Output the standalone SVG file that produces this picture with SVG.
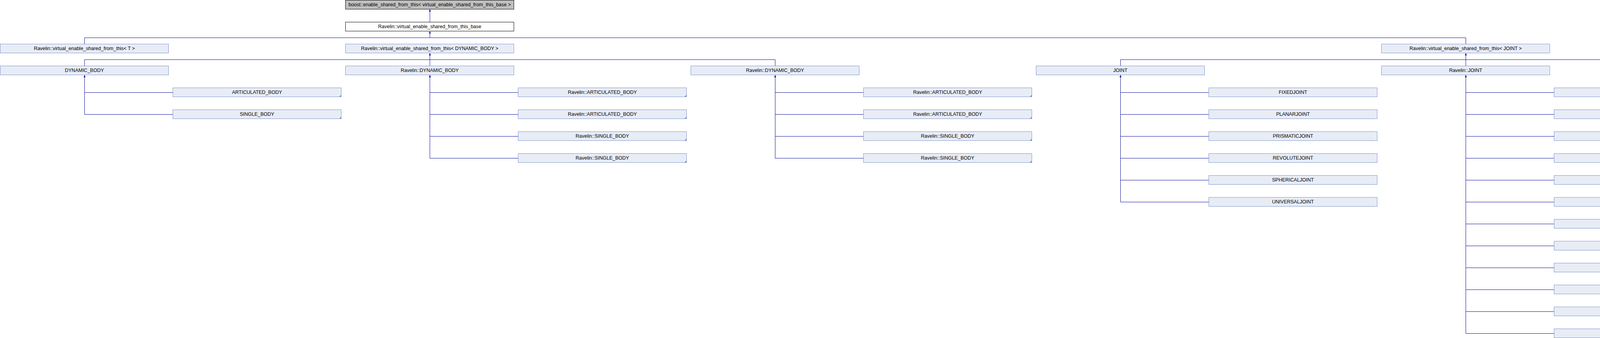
<svg xmlns="http://www.w3.org/2000/svg" width="5294" height="864" viewBox="0 0 5294 864">
<style>
.b{fill:#e8ecf5;stroke:#7b93cc;stroke-width:1}
.g{fill:#bfbfbf;stroke:#000;stroke-width:1}
.w{fill:#fff;stroke:#000;stroke-width:1}
.t{font-family:"Liberation Sans",Arial,sans-serif;font-size:12.5px;fill:#000;text-anchor:middle}
.c{fill:#7b93cc}
.e{fill:none;stroke:#0a0a9c;stroke-width:1}
.a{fill:#0a0a9c}
</style>
<rect width="5294" height="864" fill="#fff"/>
<g id="connectors">
<path class="e" d="M1100.5 23V56M1100.5 79V96.5M216.5 96.5H3752.5M216.5 96.5V112M3752.5 96.5V112M1100.5 135V168M216.5 152.5H1984.5M216.5 152.5V168M1984.5 152.5V168M3752.5 135V168M2868.5 152.5H4636.5M2868.5 152.5V168M4636.5 152.5V168"/>
<path class="e" d="M216.5 191V292.5M216.5 236.5H442M216.5 292.5H442"/>
<path class="e" d="M1100.5 191V404.5M1100.5 236.5H1326M1100.5 292.5H1326M1100.5 348.5H1326M1100.5 404.5H1326"/>
<path class="e" d="M1984.5 191V404.5M1984.5 236.5H2210M1984.5 292.5H2210M1984.5 348.5H2210M1984.5 404.5H2210"/>
<path class="e" d="M2868.5 191V516.5M2868.5 236.5H3094M2868.5 292.5H3094M2868.5 348.5H3094M2868.5 404.5H3094M2868.5 460.5H3094M2868.5 516.5H3094"/>
<path class="e" d="M3752.5 191V852.5M3752.5 236.5H3978M3752.5 292.5H3978M3752.5 348.5H3978M3752.5 404.5H3978M3752.5 460.5H3978M3752.5 516.5H3978M3752.5 572.5H3978M3752.5 628.5H3978M3752.5 684.5H3978M3752.5 740.5H3978M3752.5 796.5H3978M3752.5 852.5H3978"/>
<path class="e" d="M4636.5 191V852.5M4636.5 236.5H4862M4636.5 292.5H4862M4636.5 348.5H4862M4636.5 404.5H4862M4636.5 460.5H4862M4636.5 516.5H4862M4636.5 572.5H4862M4636.5 628.5H4862M4636.5 684.5H4862M4636.5 740.5H4862M4636.5 796.5H4862M4636.5 852.5H4862"/>
<polygon class="a" points="1100.5,23.5 1098,29.5 1103,29.5"/>
<polygon class="a" points="1100.5,79.5 1098,85.5 1103,85.5"/>
<polygon class="a" points="1100.5,135.5 1098,141.5 1103,141.5"/>
<polygon class="a" points="3752.5,135.5 3750,141.5 3755,141.5"/>
<polygon class="a" points="216.5,191.5 214,197.5 219,197.5"/>
<polygon class="a" points="1100.5,191.5 1098,197.5 1103,197.5"/>
<polygon class="a" points="1984.5,191.5 1982,197.5 1987,197.5"/>
<polygon class="a" points="2868.5,191.5 2866,197.5 2871,197.5"/>
<polygon class="a" points="3752.5,191.5 3750,197.5 3755,197.5"/>
<polygon class="a" points="4636.5,191.5 4634,197.5 4639,197.5"/>
</g>
<g id="n_boost"><rect class="g" x="884.5" y="0.5" width="431" height="23"/><text class="t" x="1100" y="15.5">boost::enable_shared_from_this&lt; virtual_enable_shared_from_this_base &gt;</text></g>
<g id="n_vesb"><rect class="w" x="884.5" y="56.5" width="431" height="23"/><text class="t" x="1100" y="71.5">Ravelin::virtual_enable_shared_from_this_base</text></g>
<g id="n_veT"><rect class="b" x="0.5" y="112.5" width="431" height="23"/><text class="t" x="216" y="127.5">Ravelin::virtual_enable_shared_from_this&lt; T &gt;</text></g>
<g id="n_veDB"><rect class="b" x="884.5" y="112.5" width="431" height="23"/><text class="t" x="1100" y="127.5">Ravelin::virtual_enable_shared_from_this&lt; DYNAMIC_BODY &gt;</text></g>
<g id="n_veJ"><rect class="b" x="3536.5" y="112.5" width="431" height="23"/><text class="t" x="3752" y="127.5">Ravelin::virtual_enable_shared_from_this&lt; JOINT &gt;</text></g>
<g id="n_DB0"><rect class="b" x="0.5" y="168.5" width="431" height="23"/><text class="t" x="216" y="183.5">DYNAMIC_BODY</text></g>
<g id="n_DB2"><rect class="b" x="884.5" y="168.5" width="431" height="23"/><text class="t" x="1100" y="183.5">Ravelin::DYNAMIC_BODY</text></g>
<g id="n_DB4"><rect class="b" x="1768.5" y="168.5" width="431" height="23"/><text class="t" x="1984" y="183.5">Ravelin::DYNAMIC_BODY</text></g>
<g id="n_J6"><rect class="b" x="2652.5" y="168.5" width="431" height="23"/><text class="t" x="2868" y="183.5">JOINT</text></g>
<g id="n_J8"><rect class="b" x="3536.5" y="168.5" width="431" height="23"/><text class="t" x="3752" y="183.5">Ravelin::JOINT</text></g>
<g id="n_J10"><rect class="b" x="4420.5" y="168.5" width="431" height="23"/><text class="t" x="4636" y="183.5">Ravelin::JOINT</text></g>
<g id="n_c1_4"><rect class="b" x="442.5" y="224.5" width="431" height="23"/><polygon class="c" points="868,247.5 873.5,242 873.5,247.5"/><text class="t" x="658" y="239.5">ARTICULATED_BODY</text></g>
<g id="n_c1_5"><rect class="b" x="442.5" y="280.5" width="431" height="23"/><polygon class="c" points="868,303.5 873.5,298 873.5,303.5"/><text class="t" x="658" y="295.5">SINGLE_BODY</text></g>
<g id="n_c3_4"><rect class="b" x="1326.5" y="224.5" width="431" height="23"/><polygon class="c" points="1752,247.5 1757.5,242 1757.5,247.5"/><text class="t" x="1542" y="239.5">Ravelin::ARTICULATED_BODY</text></g>
<g id="n_c3_5"><rect class="b" x="1326.5" y="280.5" width="431" height="23"/><polygon class="c" points="1752,303.5 1757.5,298 1757.5,303.5"/><text class="t" x="1542" y="295.5">Ravelin::ARTICULATED_BODY</text></g>
<g id="n_c3_6"><rect class="b" x="1326.5" y="336.5" width="431" height="23"/><polygon class="c" points="1752,359.5 1757.5,354 1757.5,359.5"/><text class="t" x="1542" y="351.5">Ravelin::SINGLE_BODY</text></g>
<g id="n_c3_7"><rect class="b" x="1326.5" y="392.5" width="431" height="23"/><polygon class="c" points="1752,415.5 1757.5,410 1757.5,415.5"/><text class="t" x="1542" y="407.5">Ravelin::SINGLE_BODY</text></g>
<g id="n_c5_4"><rect class="b" x="2210.5" y="224.5" width="431" height="23"/><polygon class="c" points="2636,247.5 2641.5,242 2641.5,247.5"/><text class="t" x="2426" y="239.5">Ravelin::ARTICULATED_BODY</text></g>
<g id="n_c5_5"><rect class="b" x="2210.5" y="280.5" width="431" height="23"/><polygon class="c" points="2636,303.5 2641.5,298 2641.5,303.5"/><text class="t" x="2426" y="295.5">Ravelin::ARTICULATED_BODY</text></g>
<g id="n_c5_6"><rect class="b" x="2210.5" y="336.5" width="431" height="23"/><polygon class="c" points="2636,359.5 2641.5,354 2641.5,359.5"/><text class="t" x="2426" y="351.5">Ravelin::SINGLE_BODY</text></g>
<g id="n_c5_7"><rect class="b" x="2210.5" y="392.5" width="431" height="23"/><polygon class="c" points="2636,415.5 2641.5,410 2641.5,415.5"/><text class="t" x="2426" y="407.5">Ravelin::SINGLE_BODY</text></g>
<g id="n_c7_4"><rect class="b" x="3094.5" y="224.5" width="431" height="23"/><text class="t" x="3310" y="239.5">FIXEDJOINT</text></g>
<g id="n_c7_5"><rect class="b" x="3094.5" y="280.5" width="431" height="23"/><text class="t" x="3310" y="295.5">PLANARJOINT</text></g>
<g id="n_c7_6"><rect class="b" x="3094.5" y="336.5" width="431" height="23"/><text class="t" x="3310" y="351.5">PRISMATICJOINT</text></g>
<g id="n_c7_7"><rect class="b" x="3094.5" y="392.5" width="431" height="23"/><text class="t" x="3310" y="407.5">REVOLUTEJOINT</text></g>
<g id="n_c7_8"><rect class="b" x="3094.5" y="448.5" width="431" height="23"/><text class="t" x="3310" y="463.5">SPHERICALJOINT</text></g>
<g id="n_c7_9"><rect class="b" x="3094.5" y="504.5" width="431" height="23"/><text class="t" x="3310" y="519.5">UNIVERSALJOINT</text></g>
<g id="n_c9_4"><rect class="b" x="3978.5" y="224.5" width="431" height="23"/><text class="t" x="4194" y="239.5">Ravelin::FIXEDJOINT</text></g>
<g id="n_c9_5"><rect class="b" x="3978.5" y="280.5" width="431" height="23"/><text class="t" x="4194" y="295.5">Ravelin::FIXEDJOINT</text></g>
<g id="n_c9_6"><rect class="b" x="3978.5" y="336.5" width="431" height="23"/><text class="t" x="4194" y="351.5">Ravelin::PLANARJOINT</text></g>
<g id="n_c9_7"><rect class="b" x="3978.5" y="392.5" width="431" height="23"/><text class="t" x="4194" y="407.5">Ravelin::PLANARJOINT</text></g>
<g id="n_c9_8"><rect class="b" x="3978.5" y="448.5" width="431" height="23"/><text class="t" x="4194" y="463.5">Ravelin::PRISMATICJOINT</text></g>
<g id="n_c9_9"><rect class="b" x="3978.5" y="504.5" width="431" height="23"/><text class="t" x="4194" y="519.5">Ravelin::PRISMATICJOINT</text></g>
<g id="n_c9_10"><rect class="b" x="3978.5" y="560.5" width="431" height="23"/><text class="t" x="4194" y="575.5">Ravelin::REVOLUTEJOINT</text></g>
<g id="n_c9_11"><rect class="b" x="3978.5" y="616.5" width="431" height="23"/><text class="t" x="4194" y="631.5">Ravelin::REVOLUTEJOINT</text></g>
<g id="n_c9_12"><rect class="b" x="3978.5" y="672.5" width="431" height="23"/><text class="t" x="4194" y="687.5">Ravelin::SPHERICALJOINT</text></g>
<g id="n_c9_13"><rect class="b" x="3978.5" y="728.5" width="431" height="23"/><text class="t" x="4194" y="743.5">Ravelin::SPHERICALJOINT</text></g>
<g id="n_c9_14"><rect class="b" x="3978.5" y="784.5" width="431" height="23"/><text class="t" x="4194" y="799.5">Ravelin::UNIVERSALJOINT</text></g>
<g id="n_c9_15"><rect class="b" x="3978.5" y="840.5" width="431" height="23"/><text class="t" x="4194" y="855.5">Ravelin::UNIVERSALJOINT</text></g>
<g id="n_c11_4"><rect class="b" x="4862.5" y="224.5" width="431" height="23"/><text class="t" x="5078" y="239.5">Ravelin::FIXEDJOINT</text></g>
<g id="n_c11_5"><rect class="b" x="4862.5" y="280.5" width="431" height="23"/><text class="t" x="5078" y="295.5">Ravelin::FIXEDJOINT</text></g>
<g id="n_c11_6"><rect class="b" x="4862.5" y="336.5" width="431" height="23"/><text class="t" x="5078" y="351.5">Ravelin::PLANARJOINT</text></g>
<g id="n_c11_7"><rect class="b" x="4862.5" y="392.5" width="431" height="23"/><text class="t" x="5078" y="407.5">Ravelin::PLANARJOINT</text></g>
<g id="n_c11_8"><rect class="b" x="4862.5" y="448.5" width="431" height="23"/><text class="t" x="5078" y="463.5">Ravelin::PRISMATICJOINT</text></g>
<g id="n_c11_9"><rect class="b" x="4862.5" y="504.5" width="431" height="23"/><text class="t" x="5078" y="519.5">Ravelin::PRISMATICJOINT</text></g>
<g id="n_c11_10"><rect class="b" x="4862.5" y="560.5" width="431" height="23"/><text class="t" x="5078" y="575.5">Ravelin::REVOLUTEJOINT</text></g>
<g id="n_c11_11"><rect class="b" x="4862.5" y="616.5" width="431" height="23"/><text class="t" x="5078" y="631.5">Ravelin::REVOLUTEJOINT</text></g>
<g id="n_c11_12"><rect class="b" x="4862.5" y="672.5" width="431" height="23"/><text class="t" x="5078" y="687.5">Ravelin::SPHERICALJOINT</text></g>
<g id="n_c11_13"><rect class="b" x="4862.5" y="728.5" width="431" height="23"/><text class="t" x="5078" y="743.5">Ravelin::SPHERICALJOINT</text></g>
<g id="n_c11_14"><rect class="b" x="4862.5" y="784.5" width="431" height="23"/><text class="t" x="5078" y="799.5">Ravelin::UNIVERSALJOINT</text></g>
<g id="n_c11_15"><rect class="b" x="4862.5" y="840.5" width="431" height="23"/><text class="t" x="5078" y="855.5">Ravelin::UNIVERSALJOINT</text></g>
</svg>
